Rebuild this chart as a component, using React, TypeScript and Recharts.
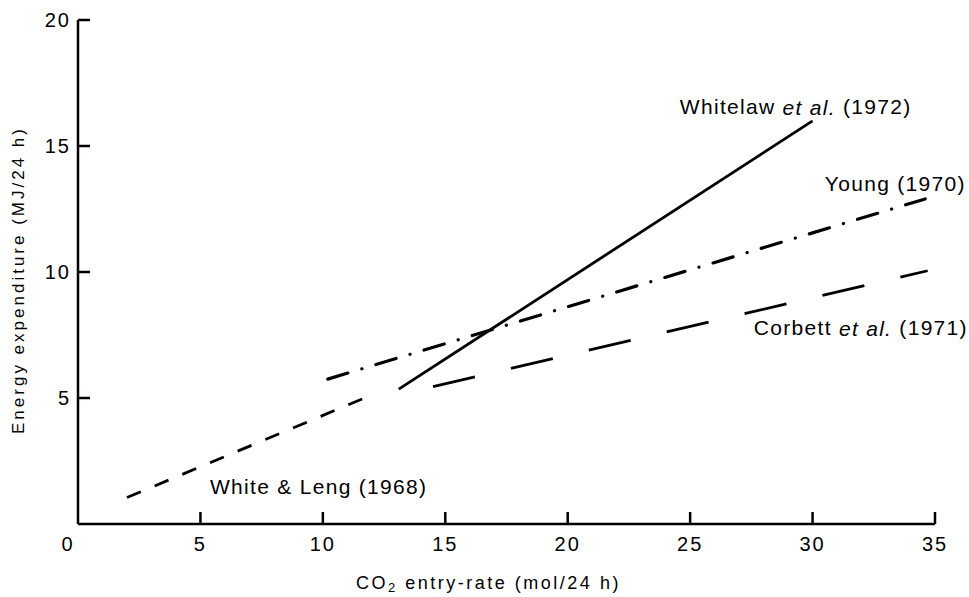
import { Line, LineChart, ReferenceDot, XAxis, YAxis } from "recharts";

const X_TICKS = [0, 5, 10, 15, 20, 25, 30, 35];
const Y_TICKS = [5, 10, 15, 20];

// end points of each fitted line
const WHITE_LENG = [
  { x: 2.0, y: 1.05 },
  { x: 11.7, y: 5.0 },
];
const WHITELAW = [
  { x: 13.1, y: 5.35 },
  { x: 30.0, y: 16.0 },
];
const YOUNG = [
  { x: 10.2, y: 5.75 },
  { x: 34.6, y: 12.9 },
];
const CORBETT = [
  { x: 14.5, y: 5.45 },
  { x: 34.7, y: 10.05 },
];

const LABELS = [
  { x: 24.58, y: 16.55, lead: "Whitelaw ", etal: "et al.", tail: " (1972)" },
  { x: 30.5, y: 13.53, lead: "Young (1970)", etal: "", tail: "" },
  { x: 27.6, y: 7.78, lead: "Corbett ", etal: "et al.", tail: " (1971)" },
  { x: 5.39, y: 1.47, lead: "White & Leng (1968)", etal: "", tail: "" },
];

const INK = "#000";
const FONT = "'Liberation Sans', Arial, sans-serif";

function XTick({ x, y, payload }: any) {
  const v = payload.value;
  return (
    <g>
      {v !== 0 && <line x1={x} x2={x} y1={y} y2={y - 12} stroke={INK} strokeWidth={2.5} />}
      <text
        x={v === 0 ? x - 10 : x}
        y={y + 20}
        textAnchor="middle"
        dominantBaseline="central"
        fill={INK}
        fontFamily={FONT}
        fontSize={20}
        letterSpacing={2}
      >
        {v}
      </text>
    </g>
  );
}

function YTick({ x, y, payload }: any) {
  return (
    <g>
      <line x1={x} x2={x + 12} y1={y} y2={y} stroke={INK} strokeWidth={2.5} />
      <text
        x={x - 7}
        y={y}
        textAnchor="end"
        dominantBaseline="central"
        fill={INK}
        fontFamily={FONT}
        fontSize={20}
        letterSpacing={2}
      >
        {payload.value}
      </text>
    </g>
  );
}

function YLabel({ viewBox }: any) {
  const cx = viewBox.x;
  const cy = viewBox.y + viewBox.height / 2 + 8;
  return (
    <text
      x={cx}
      y={cy}
      transform={`rotate(-90, ${cx}, ${cy})`}
      textAnchor="middle"
      dominantBaseline="central"
      fill={INK}
      fontFamily={FONT}
      fontSize={17}
      letterSpacing={3}
    >
      Energy expenditure (MJ/24 h)
    </text>
  );
}

function XLabel({ viewBox }: any) {
  const cx = viewBox.x + viewBox.width / 2 - 18;
  const cy = viewBox.y + 59;
  return (
    <text
      x={cx}
      y={cy}
      textAnchor="middle"
      dominantBaseline="central"
      fill={INK}
      fontFamily={FONT}
      fontSize={18}
      letterSpacing={2.5}
    >
      CO
      <tspan fontSize={13} dy={4}>
        2
      </tspan>
      <tspan dy={-4}> entry-rate (mol/24 h)</tspan>
    </text>
  );
}

function SeriesLabel(l: (typeof LABELS)[number]) {
  return ({ cx, cy }: any) => (
    <text
      x={cx}
      y={cy}
      dominantBaseline="central"
      fill={INK}
      fontFamily={FONT}
      fontSize={21}
      letterSpacing={1.3}
    >
      {l.lead}
      {l.etal && <tspan fontStyle="italic">{l.etal}</tspan>}
      {l.tail}
    </text>
  );
}

export default function App() {
  return (
    <div style={{ position: "absolute", left: 0, top: 0, background: "#fff" }}>
      <LineChart width={969} height={597} margin={{ top: 20, right: 34, bottom: 43, left: 18 }}>
        <XAxis
          type="number"
          dataKey="x"
          domain={[0, 35]}
          ticks={X_TICKS}
          height={30}
          tickSize={0}
          tickMargin={0}
          tick={<XTick />}
          axisLine={{ stroke: INK, strokeWidth: 2.5 }}
          label={<XLabel />}
        />
        <YAxis
          type="number"
          dataKey="y"
          domain={[0, 20]}
          ticks={Y_TICKS}
          width={60}
          tickSize={0}
          tickMargin={0}
          tick={<YTick />}
          axisLine={{ stroke: INK, strokeWidth: 2.5 }}
          label={<YLabel />}
        />
        <Line
          data={WHITE_LENG}
          dataKey="y"
          type="linear"
          stroke={INK}
          strokeWidth={2.8}
          strokeDasharray="15 15"
          dot={false}
          isAnimationActive={false}
        />
        <Line
          data={WHITELAW}
          dataKey="y"
          type="linear"
          stroke={INK}
          strokeWidth={2.8}
          dot={false}
          isAnimationActive={false}
        />
        <Line
          data={YOUNG}
          dataKey="y"
          type="linear"
          stroke={INK}
          strokeWidth={3.2}
          strokeLinecap="round"
          strokeDasharray="21 14.6 0.1 14.6"
          dot={false}
          isAnimationActive={false}
        />
        <Line
          data={CORBETT}
          dataKey="y"
          type="linear"
          stroke={INK}
          strokeWidth={2.8}
          strokeDasharray="43 37"
          dot={false}
          isAnimationActive={false}
        />
        {LABELS.map((l) => (
          <ReferenceDot key={l.lead} x={l.x} y={l.y} r={0} shape={SeriesLabel(l)} />
        ))}
      </LineChart>
    </div>
  );
}
